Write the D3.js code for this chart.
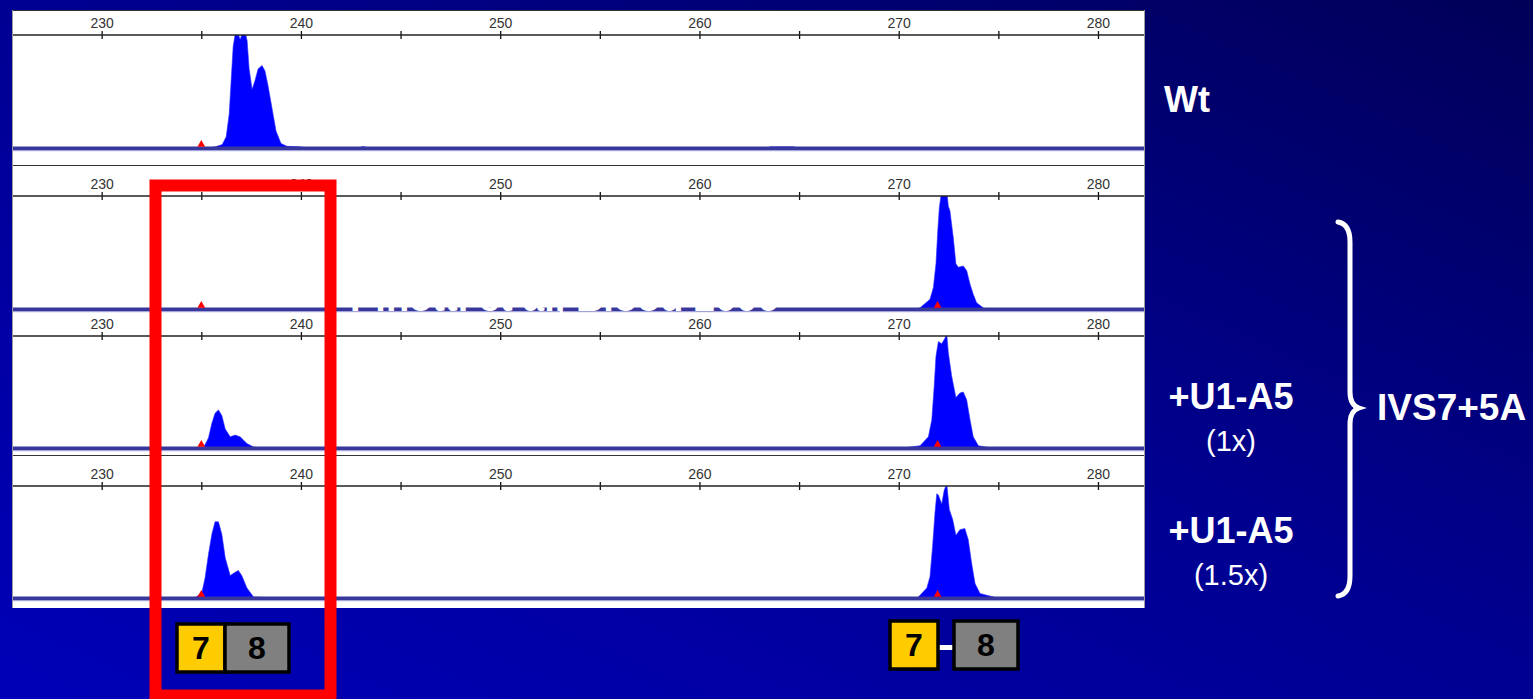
<!DOCTYPE html>
<html>
<head>
<meta charset="utf-8">
<script src="https://cdn.jsdelivr.net/npm/d3@7"></script>
<style>
  html, body { margin: 0; padding: 0; overflow: hidden; background: #00008c; }
  text { font-family: "Liberation Sans", Arial, sans-serif; }
</style>
</head>
<body>
<div id="chart"></div>
<script>
// fragment size ticks (bp)
const sizeTicks = [230, 235, 240, 245, 250, 255, 260, 265, 270, 275, 280];

// traces: [size (bp), relative peak height (1 = top of panel)]
const wtTrace = [
  [235.2, 0], [235.7, 0.01], [236.05, 0.03], [236.25, 0.1], [236.4, 0.3], [236.5, 0.6],
  [236.6, 0.9], [236.75, 1.06], [236.95, 0.96], [237.15, 1.06], [237.3, 0.95], [237.4, 0.7],
  [237.55, 0.52], [237.7, 0.6], [237.85, 0.7], [238.05, 0.73], [238.2, 0.68], [238.35, 0.55],
  [238.55, 0.35], [238.75, 0.15], [239.0, 0.04], [239.3, 0.015], [239.95, 0.01], [240.35, 0],
  [242.95, 0], [243.05, 0.012], [243.2, 0.012], [243.3, 0],
  [263.4, 0], [263.55, 0.01], [264.75, 0.01], [264.9, 0]
];
const mutTrace = [
  [270.9, 0], [271.07, 0.01], [271.57, 0.086], [271.74, 0.19], [271.87, 0.4], [271.96, 0.69],
  [272.04, 0.9], [272.16, 1.05], [272.41, 1.05], [272.49, 0.91], [272.57, 0.87], [272.74, 0.63],
  [272.87, 0.4], [272.99, 0.37], [273.24, 0.38], [273.41, 0.34], [273.58, 0.22], [273.74, 0.13],
  [273.91, 0.056], [274.24, 0.01], [274.4, 0]
];
const u1x1Trace = [
  [235.1, 0], [235.36, 0.09], [235.53, 0.22], [235.69, 0.31], [235.86, 0.34], [236.03, 0.29],
  [236.2, 0.17], [236.45, 0.1], [236.7, 0.115], [236.95, 0.1], [237.29, 0.04], [237.62, 0.01],
  [237.95, 0],
  [270.3, 0], [270.4, 0.005], [271.07, 0.02], [271.49, 0.1], [271.66, 0.25], [271.78, 0.55],
  [271.87, 0.82], [271.99, 0.95], [272.16, 0.93], [272.32, 0.98], [272.41, 1.02], [272.49, 0.85],
  [272.66, 0.64], [272.87, 0.45], [273.07, 0.49], [273.24, 0.5], [273.41, 0.43], [273.58, 0.25],
  [273.74, 0.1], [274.0, 0.02], [274.5, 0.005], [274.6, 0]
];
const u1x15Trace = [
  [234.69, 0], [235.03, 0.05], [235.19, 0.18], [235.36, 0.39], [235.53, 0.57], [235.69, 0.68],
  [235.86, 0.68], [236.03, 0.57], [236.2, 0.36], [236.45, 0.2], [236.7, 0.23], [236.86, 0.245],
  [237.03, 0.2], [237.29, 0.09], [237.62, 0.01], [238.45, 0],
  [270.9, 0], [270.99, 0.01], [271.41, 0.09], [271.57, 0.19], [271.7, 0.46], [271.82, 0.76],
  [271.91, 0.93], [271.99, 0.92], [272.16, 0.84], [272.28, 0.96], [272.41, 1.02], [272.54, 0.79],
  [272.71, 0.7], [272.87, 0.56], [273.07, 0.61], [273.32, 0.62], [273.49, 0.52], [273.66, 0.31],
  [273.83, 0.13], [274.08, 0.04], [274.75, 0.01], [274.9, 0]
];
const traces = [wtTrace, mutTrace, u1x1Trace, u1x15Trace];

// size-standard markers (red triangles) per panel
const markerSizes = [[235], [235, 271.95], [235, 271.95], [235, 271.95]];

const sampleLabels = ["Wt", "", "+U1-A5", "+U1-A5"];
const doseLabels = ["", "", "(1x)", "(1.5x)"];
const groupLabel = "IVS7+5A";
const exonLabels = ["7", "8"];

const W = 1533, H = 699;

const svg = d3.select("#chart").append("svg")
  .attr("width", W).attr("height", H);

const defs = svg.append("defs");
const grad = defs.append("linearGradient").attr("id", "bg")
  .attr("x1", 0).attr("y1", 1).attr("x2", 1).attr("y2", 0);
grad.append("stop").attr("offset", "0%").attr("stop-color", "#0000b8");
grad.append("stop").attr("offset", "55%").attr("stop-color", "#00008e");
grad.append("stop").attr("offset", "100%").attr("stop-color", "#000058");

svg.append("rect").attr("width", W).attr("height", H).attr("fill", "url(#bg)");

// plot area
const left = 12, right = 1145;
const x = d3.scaleLinear().domain([225.5, 282.36]).range([left, right]);

svg.append("rect")
  .attr("x", left).attr("y", 10)
  .attr("width", right - left).attr("height", 598)
  .attr("fill", "#fff");

const panels = [
  { top: 10, axis: 35, base: 148 },
  { top: 165, axis: 196, base: 309 },
  { top: null, axis: 336, base: 448 },
  { top: 455, axis: 486, base: 598 }
];

panels.forEach((p, i) => {
  const g = svg.append("g");
  const y = d3.scaleLinear().domain([0, 1]).range([p.base, p.axis]);

  if (p.top !== null) {
    g.append("line")
      .attr("x1", left).attr("x2", right)
      .attr("y1", p.top + 0.5).attr("y2", p.top + 0.5)
      .attr("stroke", "#333").attr("stroke-width", 1.2);
  }

  // trace, clipped to the panel
  defs.append("clipPath").attr("id", "clip" + i)
    .append("rect")
    .attr("x", left).attr("y", p.axis)
    .attr("width", right - left).attr("height", p.base - p.axis);

  const area = d3.area()
    .x((d) => x(d[0]))
    .y0(y(0))
    .y1((d) => y(d[1]))
    .curve(d3.curveLinear);

  g.append("path")
    .datum(traces[i])
    .attr("clip-path", `url(#clip${i})`)
    .attr("d", area)
    .attr("fill", "#0000ff")
    .attr("stroke", "#2a2aff")
    .attr("stroke-width", 0.6);

  // baseline band
  g.append("rect")
    .attr("x", left).attr("y", p.base - 1.5)
    .attr("width", right - left).attr("height", 3.5)
    .attr("fill", "#37379c");
  g.append("rect")
    .attr("x", left).attr("y", p.base + 2)
    .attr("width", right - left).attr("height", 1.2)
    .attr("fill", "#a4a4dc");

  // size-standard markers
  g.selectAll(".marker")
    .data(markerSizes[i])
    .join("path")
    .attr("class", "marker")
    .attr("transform", (d) => `translate(${x(d)},${p.base - 3.5})`)
    .attr("d", d3.symbol(d3.symbolTriangle).size(26))
    .attr("fill", "#ff0000");

  // size axis
  const ax = g.append("g")
    .attr("transform", `translate(0,${p.axis - 4})`)
    .call(
      d3.axisTop(x)
        .tickValues(sizeTicks)
        .tickSize(-8)
        .tickPadding(3)
        .tickFormat((d) => (d % 10 === 0 ? d : ""))
    );
  ax.select(".domain").remove();
  ax.selectAll(".tick line").attr("stroke", "#111").attr("stroke-width", 1.3);
  ax.selectAll(".tick text")
    .attr("fill", "#333")
    .style("font-size", "14px")
    .style("font-family", "Liberation Sans, Arial, sans-serif");
  g.append("line")
    .attr("x1", left).attr("x2", right)
    .attr("y1", p.axis).attr("y2", p.axis)
    .attr("stroke", "#222").attr("stroke-width", 1.3);
});

// faint reference caption mostly lost in the white area
svg.append("text")
  .attr("x", 350).attr("y", 311)
  .attr("fill", "#ffffff")
  .style("font-size", "38px").style("font-weight", "bold")
  .text("Pinotti et al, Blood 2006");

// frame sides
svg.append("line").attr("x1", left + 0.5).attr("x2", left + 0.5)
  .attr("y1", 10).attr("y2", 608).attr("stroke", "#9a9a9a").attr("stroke-width", 1);
svg.append("line").attr("x1", right - 0.5).attr("x2", right - 0.5)
  .attr("y1", 10).attr("y2", 608).attr("stroke", "#9a9a9a").attr("stroke-width", 1);

// red highlight box around the 7-8 product
svg.append("rect")
  .attr("x", 155.5).attr("y", 185.5)
  .attr("width", 175).attr("height", 510)
  .attr("fill", "none")
  .attr("stroke", "#ff0000")
  .attr("stroke-width", 12);

// exon boxes
function exonBox(xPos, yPos, w, h, fill, label) {
  svg.append("rect")
    .attr("x", xPos).attr("y", yPos)
    .attr("width", w).attr("height", h)
    .attr("fill", fill).attr("stroke", "#000").attr("stroke-width", 3.5);
  svg.append("text")
    .attr("x", xPos + w / 2).attr("y", yPos + h / 2 + 11)
    .attr("text-anchor", "middle")
    .attr("fill", "#000")
    .style("font-size", "32px").style("font-weight", "bold")
    .text(label);
}
exonBox(177, 624, 48, 48, "#ffcc00", exonLabels[0]);
exonBox(225, 624, 64, 48, "#808080", exonLabels[1]);

svg.append("rect").attr("x", 939).attr("y", 645).attr("width", 14).attr("height", 5)
  .attr("fill", "#fff");
exonBox(890, 621, 48, 48, "#ffcc00", exonLabels[0]);
exonBox(954, 621, 64, 48, "#808080", exonLabels[1]);

// sample labels
const labelY = [112, null, 409, 543];
sampleLabels.forEach((t, i) => {
  if (!t) return;
  svg.append("text")
    .attr("x", i === 0 ? 1164 : 1231).attr("y", labelY[i])
    .attr("text-anchor", i === 0 ? "start" : "middle")
    .attr("fill", "#fff")
    .style("font-size", "36px").style("font-weight", "bold")
    .text(t);
  if (doseLabels[i]) {
    svg.append("text")
      .attr("x", 1231).attr("y", labelY[i] + 42)
      .attr("text-anchor", "middle")
      .attr("fill", "#fff")
      .style("font-size", "29px")
      .text(doseLabels[i]);
  }
});

// brace and group label
svg.append("path")
  .attr("d", "M1338,222 Q1350,224 1350,242 L1350,392 Q1350,405 1359,408 Q1350,411 1350,424 L1350,576 Q1350,594 1338,596")
  .attr("fill", "none")
  .attr("stroke", "#fff")
  .attr("stroke-width", 5)
  .attr("stroke-linecap", "round");

svg.append("text")
  .attr("x", 1377).attr("y", 420)
  .attr("fill", "#fff")
  .style("font-size", "37px").style("font-weight", "bold")
  .text(groupLabel);
</script>
</body>
</html>
